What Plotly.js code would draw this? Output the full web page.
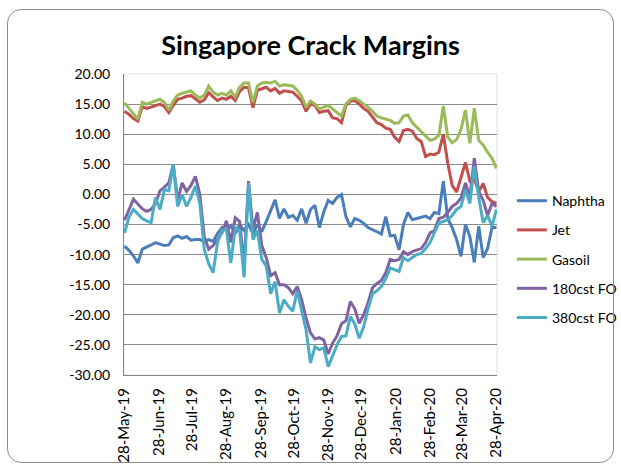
<!DOCTYPE html>
<html>
<head>
<meta charset="utf-8">
<script src="https://cdn.plot.ly/plotly-3.0.1.min.js"></script>
<style>
  html, body { margin: 0; padding: 0; background: #ffffff; }
  #wrap { position: relative; width: 621px; height: 466px; overflow: hidden; }
  #chart { position: absolute; left: 0; top: 0; width: 621px; height: 466px; }
  #frame { position: absolute; left: 7px; top: 9px; width: 605px; height: 452px;
           border: 1px solid #8c8c8c; border-radius: 14px; pointer-events: none; }
</style>
</head>
<body>
<div id="wrap">
  <div id="chart"></div>
  <div id="frame"></div>
</div>
<script>
const dates = [
  "2019-05-28","2019-06-01","2019-06-05","2019-06-09","2019-06-13","2019-06-17","2019-06-21","2019-06-25","2019-06-29",
  "2019-07-03","2019-07-07","2019-07-11","2019-07-15","2019-07-19","2019-07-23","2019-07-27","2019-07-31",
  "2019-08-04","2019-08-08","2019-08-12","2019-08-16","2019-08-20","2019-08-24","2019-08-28",
  "2019-09-01","2019-09-05","2019-09-09","2019-09-13","2019-09-17","2019-09-21","2019-09-25","2019-09-29",
  "2019-10-03","2019-10-07","2019-10-11","2019-10-15","2019-10-19","2019-10-23","2019-10-27","2019-10-31",
  "2019-11-04","2019-11-08","2019-11-12","2019-11-16","2019-11-20","2019-11-24","2019-11-28",
  "2019-12-02","2019-12-06","2019-12-10","2019-12-14","2019-12-18","2019-12-22","2019-12-26","2019-12-30",
  "2020-01-03","2020-01-07","2020-01-11","2020-01-15","2020-01-19","2020-01-23","2020-01-27","2020-01-31",
  "2020-02-04","2020-02-08","2020-02-12","2020-02-16","2020-02-20","2020-02-24","2020-02-28",
  "2020-03-03","2020-03-07","2020-03-11","2020-03-15","2020-03-19","2020-03-23","2020-03-27","2020-03-31",
  "2020-04-04","2020-04-08","2020-04-12","2020-04-16","2020-04-20","2020-04-24","2020-04-28"
];

const naphtha = [
  -8.6,-9.3,-10.2,-11.4,-9.1,-8.8,-8.4,-8.0,-8.2,-8.5,-8.4,-7.2,-6.9,-7.3,-7.0,-7.6,-7.5,
  -7.5,-7.8,-7.5,-7.8,-6.5,-5.5,-6.0,-5.2,-6.5,-5.0,-6.0,-5.0,-6.5,-5.0,-6.2,
  -4.5,-2.8,-0.9,-4.0,-2.4,-3.8,-3.5,-4.3,-2.4,-4.8,-2.5,-1.8,-5.5,-2.9,-1.0,
  -1.5,-0.5,0.0,-3.7,-5.4,-4.0,-4.3,-4.8,-5.5,-5.8,-6.2,-6.6,-3.7,-6.9,-6.8,-9.2,
  -5.0,-3.0,-4.2,-4.0,-3.8,-3.6,-4.0,-3.0,-3.2,2.2,-4.0,-5.5,-7.5,-10.3,-5.0,
  -7.0,-11.3,-5.3,-10.5,-9.0,-5.5,-5.5
];
const jet = [
  13.8,13.3,12.6,12.2,14.6,14.3,14.5,14.7,15.0,14.6,13.6,14.8,15.8,16.0,16.3,16.4,15.8,
  15.3,15.7,16.9,16.2,15.6,16.0,15.8,16.3,15.6,17.1,17.8,17.7,14.4,17.3,17.6,
  17.8,17.2,17.6,16.8,17.2,17.1,17.0,16.3,15.5,13.8,15.0,14.8,13.6,13.8,13.9,
  12.7,12.6,11.9,14.8,15.5,15.6,15.0,14.3,13.8,12.9,11.9,11.6,11.0,10.8,9.5,8.8,
  10.6,10.8,10.5,9.3,8.8,6.3,6.7,6.6,7.0,10.0,5.2,1.5,0.4,2.8,5.3,
  2.2,2.5,0.5,1.8,-0.5,-1.2,-1.5
];
const gasoil = [
  15.2,14.3,13.5,12.5,15.3,15.0,15.3,15.5,15.8,15.3,14.0,15.5,16.5,16.8,17.0,17.2,16.5,
  16.0,16.5,18.0,17.0,16.5,16.8,16.5,17.2,16.2,17.8,18.5,18.5,15.3,18.0,18.5,
  18.6,18.5,18.8,18.0,18.2,18.1,18.0,17.3,16.3,14.5,15.5,15.0,14.2,14.5,14.8,
  14.2,13.6,13.0,15.0,15.8,16.0,15.6,15.0,14.5,13.8,13.0,12.7,12.5,12.3,11.8,11.9,
  13.0,13.2,11.9,11.2,10.5,9.8,9.0,9.2,9.8,14.7,9.5,8.6,9.1,10.8,14.0,
  8.5,14.3,9.0,8.2,7.0,6.0,4.3
];
const fo180 = [
  -4.3,-2.4,-0.8,-1.6,-2.4,-2.8,-2.5,-1.5,0.6,1.2,1.9,5.0,-1.0,1.9,0.5,1.5,3.0,
  0.0,-7.0,-9.1,-8.5,-7.5,-6.4,-4.4,-8.0,-3.9,-4.5,-11.9,2.2,-5.8,-3.0,-8.5,
  -10.5,-13.5,-13.0,-15.0,-15.0,-15.5,-16.5,-15.3,-17.5,-20.5,-23.0,-24.0,-23.8,-24.2,-26.5,
  -24.7,-23.5,-21.5,-21.0,-17.8,-19.0,-21.4,-20.0,-18.0,-15.5,-14.8,-14.3,-13.0,-10.8,-11.0,-10.8,
  -9.5,-10.0,-9.5,-9.3,-9.0,-8.0,-6.4,-6.0,-4.0,-3.8,-3.0,-2.0,-1.5,-0.6,1.9,
  -0.5,6.0,0.5,-1.0,-3.5,-1.5,-2.0
];
const fo380 = [
  -6.4,-3.8,-2.5,-3.2,-4.0,-4.4,-4.7,-0.5,-2.5,0.8,0.6,5.0,-2.0,0.0,-2.0,-0.5,1.4,
  -1.5,-9.1,-11.5,-13.0,-8.0,-6.0,-5.8,-11.4,-5.5,-6.0,-13.8,1.9,-7.5,-6.0,-10.8,
  -11.9,-16.5,-14.5,-19.7,-17.5,-18.6,-19.4,-16.0,-19.2,-22.5,-28.0,-25.3,-25.8,-25.5,-28.6,
  -26.8,-25.0,-23.6,-23.5,-20.3,-21.5,-23.9,-22.0,-19.0,-16.5,-16.0,-15.3,-14.0,-12.2,-12.5,-12.8,
  -10.5,-11.0,-10.5,-10.0,-9.8,-9.0,-8.0,-6.4,-4.7,-4.5,-4.2,-3.5,-2.5,-2.0,0.8,
  -1.5,4.7,-0.5,-4.7,-3.5,-5.3,-2.5
];

const seriesNames = ["Naphtha", "Jet", "Gasoil", "180cst FO", "380cst FO"];
const seriesColors = ["#4a7ebb", "#c0504d", "#9bbb59", "#8064a2", "#4bacc6"];

const xTickVals = ["2019-05-28","2019-06-28","2019-07-28","2019-08-28","2019-09-28","2019-10-28",
                   "2019-11-28","2019-12-28","2020-01-28","2020-02-28","2020-03-28","2020-04-28"];
const xTickText = ["28-May-19","28-Jun-19","28-Jul-19","28-Aug-19","28-Sep-19","28-Oct-19",
                   "28-Nov-19","28-Dec-19","28-Jan-20","28-Feb-20","28-Mar-20","28-Apr-20"];
const yTickVals = [20, 15, 10, 5, 0, -5, -10, -15, -20, -25, -30];
const yTickText = ["20.00","15.00","10.00","5.00","0.00","-5.00","-10.00","-15.00","-20.00","-25.00","-30.00"];

const values = [naphtha, jet, gasoil, fo180, fo380];
const traces = values.map((v, i) => ({
  type: "scatter",
  mode: "lines",
  name: seriesNames[i],
  x: dates,
  y: v,
  legendgroup: "g" + i,
  line: { color: seriesColors[i], width: 3, shape: "linear" },
  hoverinfo: "skip"
}));

const fontFam = "Lato, 'Liberation Sans', sans-serif";

const layout = {
  width: 621,
  height: 466,
  margin: { l: 124, r: 124, t: 74, b: 91, pad: 0, autoexpand: false },
  paper_bgcolor: "rgba(0,0,0,0)",
  plot_bgcolor: "#ffffff",
  title: {
    text: "<b>Singapore Crack Margins</b>",
    font: { family: fontFam, size: 27, color: "#000000" },
    x: 0.5, xanchor: "center",
    y: 0.902, yanchor: "middle"
  },
  showlegend: true,
  legend: {
    x: 1.04, xanchor: "left",
    y: 0.385, yanchor: "middle",
    font: { family: fontFam, size: 14, color: "#000000" },
    traceorder: "grouped",
    tracegroupgap: 8,
    bgcolor: "rgba(0,0,0,0)"
  },
  xaxis: {
    type: "date",
    range: ["2019-05-27 12:00", "2020-04-28 12:00"],
    tickvals: xTickVals,
    ticktext: xTickText,
    tickangle: -90,
    tickfont: { family: fontFam, size: 15, color: "#000000" },
    showgrid: false,
    zeroline: false,
    showline: true,
    linecolor: "#868686",
    linewidth: 1,
    ticks: "",
    ticklabelstandoff: 6,
    automargin: false,
    fixedrange: true
  },
  yaxis: {
    range: [-30, 20],
    tickvals: yTickVals,
    ticktext: yTickText,
    tickfont: { family: fontFam, size: 14, color: "#000000" },
    showgrid: true,
    gridcolor: "#8c8c8c",
    gridwidth: 1,
    zeroline: false,
    showline: true,
    linecolor: "#868686",
    linewidth: 1,
    ticks: "",
    ticklabelstandoff: 10,
    automargin: false,
    fixedrange: true
  },
  shapes: [
    { type: "rect", xref: "paper", yref: "paper", x0: 0, x1: 1, y0: 0, y1: 1,
      line: { color: "#dce3ee", width: 1 }, fillcolor: "rgba(0,0,0,0)", layer: "below" }
  ]
};

Plotly.newPlot("chart", traces, layout, { staticPlot: true, displayModeBar: false });
</script>
</body>
</html>
